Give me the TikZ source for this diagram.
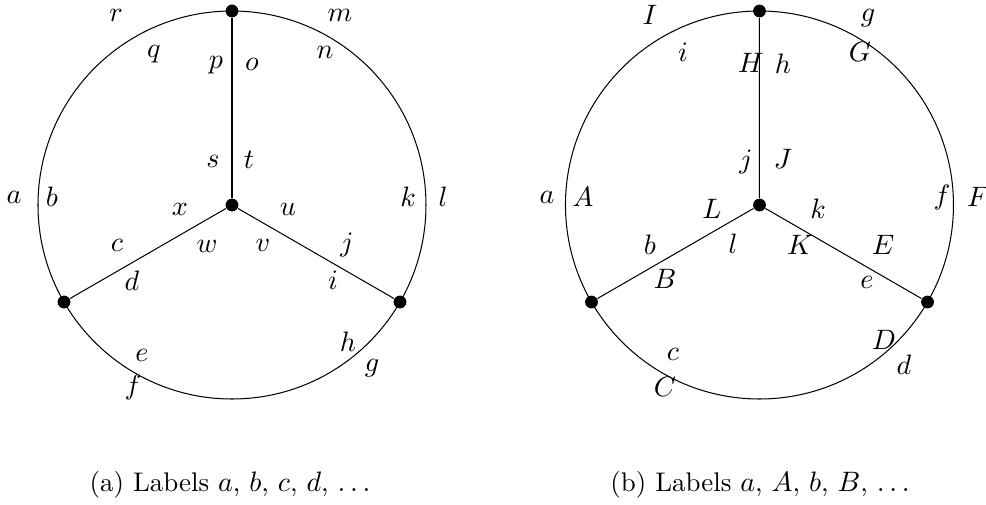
\documentclass[tikz,border=0pt]{standalone}
\usepackage{amsmath,amssymb}
\usepackage{tikz}

\begin{document}
\begin{tikzpicture}[scale=0.137]
\tikzset{vertex/.style={circle,fill,inner sep=0pt,minimum size=5pt},
  lbl/.style={inner sep=0pt,font=\fontsize{11}{13}\selectfont},
  caption/.style={inner sep=0pt,font=\fontsize{10.5}{12}\selectfont}}
\useasboundingbox (0,0) rectangle (98.6,-50.4);
% left picture
\coordinate (lc) at (23.2,-20.5);
\node[vertex] (l0) at (23.2,-20.5) {};
\node[vertex] (l1) at (23.2,-1.1) {};
\node[vertex] (l2) at (6.4,-30.2) {};
\node[vertex] (l3) at (40.0,-30.2) {};
\draw (lc) circle (19.4);
\path (l0) edge (l1);
\path (l0) edge (l2);
\path (l0) edge (l3);
\node[lbl] (la) at (1.4,-19.7) {$a$};
\node[lbl] (lb) at (5.2,-19.7) {$b$};
\node[lbl] (lc1) at (11.7,-24.5) {$c$};
\node[lbl] (ld) at (13.2,-28.1) {$d$};
\node[lbl] (le) at (14.2,-35.5) {$e$};
\node[lbl] (lf) at (13.3,-38.7) {$f$};
\node[lbl] (lg) at (37.2,-36.8) {$g$};
\node[lbl] (lh) at (34.8,-34.2) {$h$};
\node[lbl] (li) at (33.3,-28.0) {$i$};
\node[lbl] (lj) at (34.7,-24.5) {$j$};
\node[lbl] (lk) at (40.8,-19.7) {$k$};
\node[lbl] (ll) at (44.3,-19.7) {$l$};
\node[lbl] (lm) at (34.0,-1.5) {$m$};
\node[lbl] (ln) at (32.5,-5.2) {$n$};
\node[lbl] (lo) at (25.2,-6.4) {$o$};
\node[lbl] (lp) at (21.6,-6.5) {$p$};
\node[lbl] (lq) at (15.4,-5.4) {$q$};
\node[lbl] (lr) at (11.6,-1.5) {$r$};
\node[lbl] (ls) at (21.3,-16.1) {$s$};
\node[lbl] (lt) at (24.9,-16.0) {$t$};
\node[lbl] (lu) at (28.8,-20.9) {$u$};
\node[lbl] (lv) at (26.3,-24.5) {$v$};
\node[lbl] (lw) at (20.7,-24.6) {$w$};
\node[lbl] (lx) at (18.0,-20.9) {$x$};
\node[caption] (lcap) at (23.0,-48.5) {(a) Labels $a$, $b$, $c$, $d$, $\ldots$};
% right picture
\coordinate (rc) at (75.95,-20.5);
\node[vertex] (r0) at (75.95,-20.5) {};
\node[vertex] (r1) at (75.95,-1.1) {};
\node[vertex] (r2) at (59.15,-30.2) {};
\node[vertex] (r3) at (92.75,-30.2) {};
\draw (rc) circle (19.4);
\path (r0) edge (r1);
\path (r0) edge (r2);
\path (r0) edge (r3);
\node[lbl] (ra) at (54.7,-19.7) {$a$};
\node[lbl] (rA) at (58.3,-19.7) {$A$};
\node[lbl] (rb) at (65.0,-24.5) {$b$};
\node[lbl] (rB) at (66.5,-27.9) {$B$};
\node[lbl] (rc1) at (67.3,-35.4) {$c$};
\node[lbl] (rC) at (66.5,-38.7) {$C$};
\node[lbl] (rd) at (90.4,-36.5) {$d$};
\node[lbl] (rD) at (88.4,-34.0) {$D$};
\node[lbl] (re) at (86.7,-28.2) {$e$};
\node[lbl] (rE) at (88.3,-24.5) {$E$};
\node[lbl] (rf) at (94.2,-19.7) {$f$};
\node[lbl] (rF) at (97.8,-19.7) {$F$};
\node[lbl] (rg) at (86.8,-1.8) {$g$};
\node[lbl] (rG) at (86.0,-5.2) {$G$};
\node[lbl] (rh) at (78.3,-6.4) {$h$};
\node[lbl] (rH) at (75.1,-6.3) {$H$};
\node[lbl] (ri) at (68.3,-5.2) {$i$};
\node[lbl] (rI) at (65.0,-1.5) {$I$};
\node[lbl] (rj) at (74.6,-16.2) {$j$};
\node[lbl] (rJ) at (78.3,-15.9) {$J$};
\node[lbl] (rk) at (81.8,-20.9) {$k$};
\node[lbl] (rK) at (80.0,-24.5) {$K$};
\node[lbl] (rl) at (73.3,-24.4) {$l$};
\node[lbl] (rL) at (71.2,-20.9) {$L$};
\node[caption] (rcap) at (76.0,-48.5) {(b) Labels $a$, $A$, $b$, $B$, $\ldots$};
\end{tikzpicture}
\end{document}
